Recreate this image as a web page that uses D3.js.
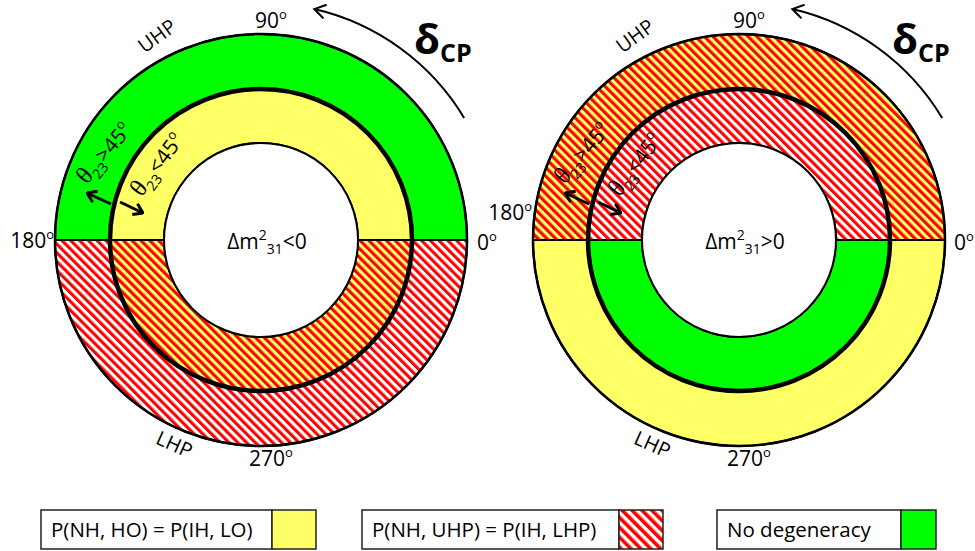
<!DOCTYPE html>
<html>
<head>
<meta charset="utf-8">
<script src="https://cdn.jsdelivr.net/npm/d3@7"></script>
<style>
  body { margin: 0; background: white; }
  svg { display: block; font-family: "Open Sans", sans-serif; }
</style>
</head>
<body>
<div id="chart"></div>
<script>
const w = 975;
const h = 551;

// data
const panelSigns = ['<0', '>0'];
const halves = ['UHP', 'LHP'];
const outerFills = [['green', 'hatchWhite'], ['hatchYellow', 'yellow']];   // [upper, lower] per panel
const middleFills = [['yellow', 'hatchYellow'], ['hatchWhite', 'green']];
const degreeTicks = [0, 90, 180, 270];
const octantLabels = ['>', '<'];   // theta23 vs 45 deg, outer / middle ring
const legendLabels = ['P(NH, HO) = P(IH, LO)', 'P(NH, UHP) = P(IH, LHP)', 'No degeneracy'];
const legendFills = ['yellow', 'hatchWhite', 'green'];

// layout
const centersX = [261, 739];
const cy = 240;
const rInner = 97, rMid = 151, rOuter = 206, rArrow = 237;
const legendX = [41, 362, 717];
const legendTextW = [231, 257, 184];
const legendSwW = [44, 44, 35];
const colors = {green: '#00ff00', yellow: '#ffff66', red: '#ff0000'};

const ang = d3.scaleLinear().domain([0, 360]).range([Math.PI / 2, Math.PI / 2 - 2 * Math.PI]);
const polar = (cx, r, deg) => [cx + r * Math.cos(deg * Math.PI / 180), cy - r * Math.sin(deg * Math.PI / 180)];

const svg = d3.select('#chart')
              .append('svg')
              .attr('width', w)
              .attr('height', h)
              .style('background-color', 'white');

const defs = svg.append('defs');
const addHatch = (id, bg, period, stripe) => {
   const p = defs.append('pattern')
      .attr('id', id)
      .attr('patternUnits', 'userSpaceOnUse')
      .attr('width', period)
      .attr('height', 10)
      .attr('patternTransform', 'rotate(-45)');
   p.append('rect').attr('width', period).attr('height', 10).attr('fill', bg);
   p.append('rect').attr('width', stripe).attr('height', 10).attr('fill', colors.red);
};
addHatch('hatchWhite', 'white', 6.2, 3.1);
addHatch('hatchYellow', colors.yellow, 6.2, 3.1);
addHatch('hatchLegend', 'white', 7, 3.6);

const fillOf = k => k.startsWith('hatch') ? `url(#${k})` : colors[k];

defs.append('marker')
   .attr('id', 'vhead')
   .attr('viewBox', '-12 -8 14 16')
   .attr('markerWidth', 14).attr('markerHeight', 16)
   .attr('markerUnits', 'userSpaceOnUse')
   .attr('orient', 'auto')
   .append('path')
   .attr('d', 'M-11,-7 L0,0 L-11,7')
   .attr('fill', 'none').attr('stroke', 'black').attr('stroke-width', 2);

defs.append('marker')
   .attr('id', 'shead')
   .attr('viewBox', '-10 -7 11 14')
   .attr('markerWidth', 11).attr('markerHeight', 14)
   .attr('markerUnits', 'userSpaceOnUse')
   .attr('orient', 'auto')
   .append('path')
   .attr('d', 'M-9,-6 L0,0 L-9,6')
   .attr('fill', 'none').attr('stroke', 'black').attr('stroke-width', 3);

const arc = d3.arc();

panelSigns.forEach((sign, p) => {
   const cx = centersX[p];
   const g = svg.append('g');

   const sectors = [];
   halves.forEach((hp, i) => {
      const a0 = ang(i * 180), a1 = ang(i * 180 + 180);
      sectors.push({innerRadius: rMid, outerRadius: rOuter, startAngle: a0, endAngle: a1, fill: outerFills[p][i]});
      sectors.push({innerRadius: rInner, outerRadius: rMid, startAngle: a0, endAngle: a1, fill: middleFills[p][i]});
   });

   g.selectAll('path.sector')
      .data(sectors)
      .enter()
      .append('path')
      .attr('class', 'sector')
      .attr('transform', `translate(${cx},${cy})`)
      .attr('d', arc)
      .attr('fill', d => fillOf(d.fill))
      .attr('stroke', 'black')
      .attr('stroke-width', 2);

   g.append('circle').attr('cx', cx).attr('cy', cy).attr('r', rOuter)
      .attr('fill', 'none').attr('stroke', 'black').attr('stroke-width', 2.5);
   g.append('circle').attr('cx', cx).attr('cy', cy).attr('r', rInner)
      .attr('fill', 'white').attr('stroke', 'black').attr('stroke-width', 2);
   g.append('circle').attr('cx', cx).attr('cy', cy).attr('r', rMid)
      .attr('fill', 'none').attr('stroke', 'black').attr('stroke-width', 4.5);

   // delta_CP arrow
   const ap = d3.path();
   ap.arc(cx, cy, rArrow, -31 * Math.PI / 180, -77 * Math.PI / 180, true);
   g.append('path').attr('d', ap.toString())
      .attr('fill', 'none').attr('stroke', 'black').attr('stroke-width', 2)
      .attr('marker-end', 'url(#vhead)');

   const dl = g.append('text').attr('x', cx + 153).attr('y', cy - 186)
      .attr('font-family', 'Open Sans').attr('font-weight', 'bold').attr('font-size', 42);
   dl.append('tspan').text('δ');
   dl.append('tspan').attr('dy', 8).attr('font-size', 25).text('CP');

   // degree labels
   const degPos = {
      0:   {dx: p === 0 ? 216 : 215, dy: 10, anchor: 'start'},
      90:  {dx: 10, dy: -212, anchor: 'middle'},
      180: {dx: -207, dy: p === 0 ? 8 : -20, anchor: 'end'},
      270: {dx: 10, dy: 226, anchor: 'middle'}
   };
   degreeTicks.forEach(t => {
      const pos = degPos[t];
      const tx = g.append('text')
         .attr('x', cx + pos.dx).attr('y', cy + pos.dy)
         .attr('text-anchor', pos.anchor)
         .attr('font-size', 21);
      tx.append('tspan').text(t);
      tx.append('tspan').attr('dy', -9).attr('font-size', 13).text('o');
   });

   // UHP / LHP
   const [ux, uy] = polar(cx, 229, 117);
   g.append('text').attr('transform', `translate(${ux},${uy}) rotate(-36)`)
      .attr('text-anchor', 'middle').attr('dy', 7).attr('font-size', 20).text(halves[0]);
   const [lx, ly] = polar(cx, 222, 247);
   g.append('text').attr('transform', `translate(${lx},${ly}) rotate(24)`)
      .attr('text-anchor', 'middle').attr('dy', 7).attr('font-size', 20).text(halves[1]);

   // mass ordering label
   const mt = g.append('text').attr('x', cx + 6).attr('y', cy + 9)
      .attr('text-anchor', 'middle').attr('font-size', 21);
   mt.append('tspan').text('Δm');
   mt.append('tspan').attr('dy', -9).attr('font-size', 14).text('2');
   mt.append('tspan').attr('dy', 14).attr('font-size', 14).text('31');
   mt.append('tspan').attr('dy', -5).text(sign);

   // octant labels
   const octPos = [{r: 179, deg: 151, rot: -50}, {r: 128, deg: 144, rot: -53}];
   octantLabels.forEach((op, i) => {
      const [ox, oy] = polar(cx, octPos[i].r, octPos[i].deg);
      const ot = g.append('text')
         .attr('transform', `translate(${ox},${oy}) rotate(${octPos[i].rot})`)
         .attr('text-anchor', 'middle').attr('dy', 7).attr('font-size', 21);
      ot.append('tspan').attr('font-family', 'Liberation Serif').attr('font-size', 25).text('θ');
      ot.append('tspan').attr('dy', 6).attr('font-size', 14).text('23');
      ot.append('tspan').attr('dy', -6).text(op + '45');
      ot.append('tspan').attr('dy', -9).attr('font-size', 13).text('o');
   });

   // octant arrows
   const arrows = [[[-150, -36], [-174, -47]], [[-141, -38], [-118, -27]]];
   arrows.forEach(([s, e]) => {
      g.append('line')
         .attr('x1', cx + s[0]).attr('y1', cy + s[1])
         .attr('x2', cx + e[0]).attr('y2', cy + e[1])
         .attr('stroke', 'black').attr('stroke-width', 3)
         .attr('marker-end', 'url(#shead)');
   });
});

// legend
const legend = svg.selectAll('.legend')
   .data(legendLabels)
   .enter()
   .append('g')
   .attr('class', 'legend')
   .attr('transform', (d, i) => `translate(${legendX[i]}, 510)`);

legend.append('rect')
   .attr('width', (d, i) => legendTextW[i])
   .attr('height', 39)
   .attr('fill', 'white')
   .attr('stroke', '#222').attr('stroke-width', 1.5);

legend.append('rect')
   .attr('x', (d, i) => legendTextW[i])
   .attr('width', (d, i) => legendSwW[i])
   .attr('height', 39)
   .attr('fill', (d, i) => legendFills[i] === 'hatchWhite' ? 'url(#hatchLegend)' : colors[legendFills[i]])
   .attr('stroke', '#222').attr('stroke-width', 1.5);

legend.append('text')
   .attr('x', 10)
   .attr('y', 27)
   .attr('font-size', 20.5)
   .text(d => d);
</script>
</body>
</html>
